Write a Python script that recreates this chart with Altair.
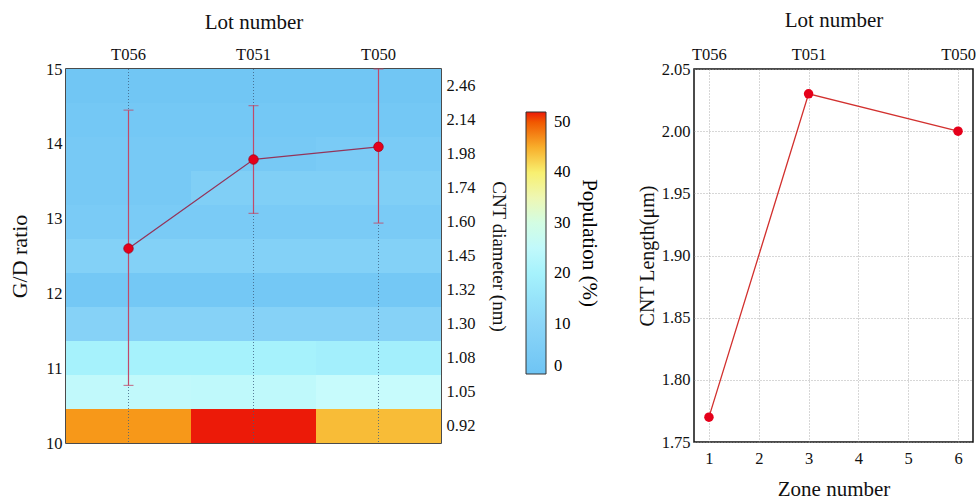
import altair as alt
import pandas as pd

# ---------------- data ----------------
zones = ["1", "3", "6"]
lots = ["T056", "T051", "T050"]
diameters = ["0.92", "1.05", "1.08", "1.30", "1.32", "1.45", "1.60", "1.74", "1.98", "2.14", "2.46"]
pop_zone1 = [46.5, 25, 20, 8, 2, 7, 4, 3, 3, 2, 1]
pop_zone3 = [52, 24.5, 20, 8, 2, 7, 4, 6, 3, 2, 1]
pop_zone6 = [44, 26, 19, 8, 2, 7, 4, 6, 4, 2, 1]
gd_mean = [12.60, 13.79, 13.96]
gd_low = [10.77, 13.07, 12.94]
gd_high = [14.45, 14.51, 15.0]
zone_num = [1, 3, 6]
cnt_length = [1.77, 2.03, 2.00]

FONT = "Liberation Serif"

heat_rows = []
for z, pops in zip(zones, [pop_zone1, pop_zone3, pop_zone6]):
    for d, p in zip(diameters, pops):
        heat_rows.append({"zone": z, "diam": d, "pop": p})
heat_df = pd.DataFrame(heat_rows)
zone_df = pd.DataFrame({"zone": zones})
gd_df = pd.DataFrame({"lot": lots, "gd": gd_mean, "lo": gd_low, "hi": gd_high})
len_df = pd.DataFrame({"zone": zone_num, "len": cnt_length, "lot": lots})

# ---------------- left panel ----------------
W1, H1 = 375, 374
band = alt.Scale(paddingInner=0, paddingOuter=0)

color_scale = alt.Scale(
    domain=[0, 10, 20, 27, 33, 40, 46, 52],
    range=["#6ec4f4", "#8cd6f8", "#a6f2fc", "#ccfcfc", "#eef8cc", "#f8f070", "#f8a020", "#ec1a08"],
)

heat = alt.Chart(heat_df).mark_rect().encode(
    x=alt.X("zone:N", sort=zones, scale=band,
            axis=alt.Axis(title="Zone number", orient="bottom", labelAngle=0,
                          ticks=False, domain=False, labelPadding=8, titlePadding=12,
                          titleFontSize=21, labelFontSize=16.5)),
    y=alt.Y("diam:N", sort=diameters[::-1], scale=band,
            axis=alt.Axis(title="CNT diameter (nm)", orient="right", ticks=False,
                          domain=False, labelPadding=5, titlePadding=14,
                          titleFontSize=19, labelFontSize=16.5)),
    color=alt.Color("pop:Q", scale=color_scale,
                    legend=alt.Legend(orient="none", legendX=460, legendY=43,
                                      direction="vertical", gradientLength=262,
                                      gradientThickness=20, values=[0, 10, 20, 30, 40, 50],
                                      title="Population (%)", titleOrient="right",
                                      titleAnchor="middle",
                                      titleFontSize=21, titleFontWeight="normal",
                                      titleFont=FONT, titlePadding=8,
                                      labelFontSize=16.5, labelFont=FONT, labelOffset=8,
                                      gradientStrokeColor="#333", gradientStrokeWidth=1)),
)

vgrid = alt.Chart(zone_df).mark_rule(color="#3d5f80", strokeDash=[1, 2], strokeWidth=0.8).encode(
    x=alt.X("zone:N", sort=zones, scale=band, axis=None)
)

bottom_layer = alt.layer(heat, vgrid)

lot_x = alt.X("lot:N", sort=lots, scale=band,
              axis=alt.Axis(title="Lot number", orient="top", labelAngle=0, ticks=False,
                            domain=False, labelPadding=7, titlePadding=14,
                            titleFontSize=21, labelFontSize=16.5))
gd_scale = alt.Scale(domain=[10, 15], nice=False)

err = alt.Chart(gd_df).mark_rule(color="#c04a6a", strokeWidth=1.2).encode(
    x=lot_x,
    y=alt.Y("lo:Q", scale=gd_scale,
            axis=alt.Axis(title="G/D ratio", orient="left", values=[10, 11, 12, 13, 14, 15],
                          format="d", ticks=False, domain=False, grid=False, labelPadding=4,
                          titlePadding=14, titleFontSize=22, labelFontSize=16.5)),
    y2="hi:Q",
)
cap_lo = alt.Chart(gd_df).mark_tick(color="#c04a6a", size=10, thickness=1.2).encode(
    x=lot_x, y=alt.Y("lo:Q", scale=gd_scale))
cap_hi = alt.Chart(gd_df).mark_tick(color="#c04a6a", size=10, thickness=1.2).encode(
    x=lot_x, y=alt.Y("hi:Q", scale=gd_scale))
gd_line = alt.Chart(gd_df).mark_line(color="#93345a", strokeWidth=1.3).encode(
    x=lot_x, y=alt.Y("gd:Q", scale=gd_scale))
gd_pts = alt.Chart(gd_df).mark_point(filled=True, color="#e5001a", size=90, opacity=1,
                                     stroke="#a0001a", strokeWidth=0.8).encode(
    x=lot_x, y=alt.Y("gd:Q", scale=gd_scale))

top_layer = alt.layer(err, cap_lo, cap_hi, gd_line, gd_pts)

left = alt.layer(bottom_layer, top_layer).resolve_scale(
    x="independent", y="independent"
).properties(width=W1, height=H1)

# ---------------- right panel ----------------
W2, H2 = 279, 373
xs = alt.Scale(domain=[0.7, 6.3], nice=False)
ys = alt.Scale(domain=[1.75, 2.05], nice=False)
grid_kw = dict(grid=True, gridColor="#9a9a9a", gridDash=[1, 2], gridWidth=0.8)

len_line = alt.Chart(len_df).mark_line(color="#d2302e", strokeWidth=1.3).encode(
    x=alt.X("zone:Q", scale=xs,
            axis=alt.Axis(title="Zone number", values=[1, 2, 3, 4, 5, 6], ticks=False,
                          domain=False, labelPadding=8, titlePadding=12,
                          titleFontSize=21, labelFontSize=16.5, **grid_kw)),
    y=alt.Y("len:Q", scale=ys,
            axis=alt.Axis(title="CNT Length(μm)", values=[1.75, 1.80, 1.85, 1.90, 1.95, 2.00, 2.05],
                          format=".2f", ticks=False, domain=False, labelPadding=4,
                          titlePadding=4, titleFontSize=20, labelFontSize=16.5, **grid_kw)),
)
len_pts = alt.Chart(len_df).mark_point(filled=True, color="#e5001a", size=90, opacity=1).encode(
    x=alt.X("zone:Q", scale=xs), y=alt.Y("len:Q", scale=ys))

label_expr = " : ".join(
    f"datum.value == {z} ? '{l}'" for z, l in zip(zone_num, lots)
) + " : ''"
len_top = alt.Chart(len_df).mark_point(opacity=0).encode(
    x=alt.X("zone:Q", scale=xs,
            axis=alt.Axis(title="Lot number", orient="top", values=zone_num, labelExpr=label_expr,
                          ticks=False, domain=False, grid=False, labelPadding=7,
                          titlePadding=16, titleFontSize=21, labelFontSize=16.5)),
    y=alt.Y("len:Q", scale=ys),
)

right = alt.layer(alt.layer(len_line, len_pts), len_top).resolve_scale(
    x="independent"
).properties(width=W2, height=H2)

chart = alt.hconcat(left, right, spacing=127).properties(
    padding={"left": 7, "top": 8, "right": 0, "bottom": 0}
).configure(font=FONT).configure_axis(
    labelFont=FONT, titleFont=FONT, labelColor="#111", titleColor="#111",
    titleFontWeight="normal",
).configure_view(stroke="#111", strokeWidth=1.5)

chart.save("out.html", embed_options={"renderer": "svg", "actions": False})
